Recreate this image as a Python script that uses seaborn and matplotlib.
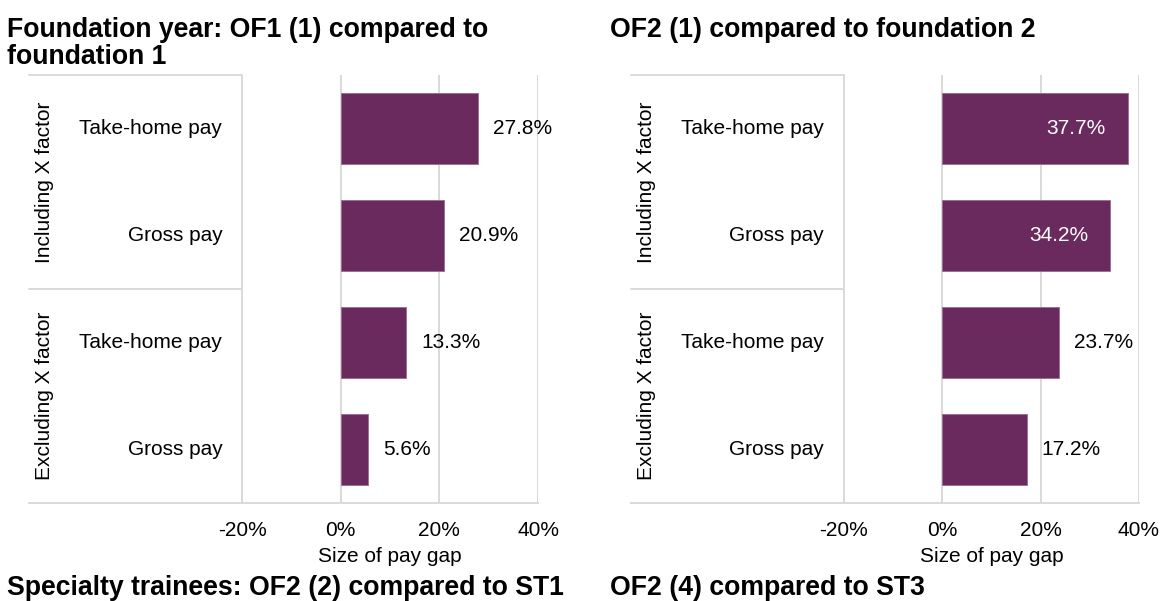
import matplotlib
matplotlib.use("Agg")
import matplotlib.pyplot as plt
import matplotlib.transforms as mtransforms
import pandas as pd
import seaborn as sns

# ---- data ----
groups = ["Including X factor", "Including X factor", "Excluding X factor", "Excluding X factor"]
measures = ["Take-home pay", "Gross pay", "Take-home pay", "Gross pay"]
foundation_gap = [27.8, 20.9, 13.3, 5.6]   # OF1 (1) vs foundation 1
of2_gap = [37.7, 34.2, 23.7, 17.2]          # OF2 (1) vs foundation 2
tick_values = [-20, 0, 20, 40]
tick_labels = ["-20%", "0%", "20%", "40%"]
titles_top = ["Foundation year: OF1 (1) compared to\nfoundation 1", "OF2 (1) compared to foundation 2"]
titles_bottom = ["Specialty trainees: OF2 (2) compared to ST1", "OF2 (4) compared to ST3"]
x_title = "Size of pay gap"

PURPLE = "#6B2A5E"
GRID = "#D9D9D9"
W, H = 1166, 601
FS = 15          # body text size
TFS = 19.2       # panel title size

sns.set_theme(style="white")
plt.rcParams["font.family"] = ["Liberation Sans", "DejaVu Sans"]
plt.rcParams["text.color"] = "black"

fig = plt.figure(figsize=(W / 100, H / 100), dpi=100)

rows = [f"{g} | {m}" for g, m in zip(groups, measures)]
XMIN, XMAX = -63.2, 40


def panel(left_px, right_px, values, inside_from):
    ax = fig.add_axes([left_px / W, (H - 503) / H, (right_px - left_px) / W, 428 / H])
    df = pd.DataFrame({"row": rows, "gap": values})
    for v in tick_values:
        ax.axvline(v, color=GRID, lw=1.4, zorder=0)
    sns.barplot(data=df, x="gap", y="row", order=rows, color=PURPLE, width=0.67,
                saturation=1, edgecolor="#9A6A90", linewidth=0.6, ax=ax, zorder=2)
    ax.set_xlim(XMIN, XMAX)
    ax.set_ylim(3.5, -0.5)
    for side in ["top", "right", "left"]:
        ax.spines[side].set_visible(False)
    ax.spines["bottom"].set_color(GRID)
    ax.spines["bottom"].set_linewidth(1.4)
    ax.set_yticks([])
    ax.set_ylabel("")
    ax.set_xlabel("")
    ax.set_xticks(tick_values)
    ax.set_xticklabels(tick_labels)
    ax.tick_params(axis="x", length=0, pad=13, labelsize=FS, colors="black")

    # category-axis frame lines
    for y in [-0.5, 1.5]:
        ax.plot([XMIN, -20], [y, y], color=GRID, lw=1.4, clip_on=False, zorder=1)

    # category labels
    for i, m in enumerate(measures):
        ax.text(-24, i, m, ha="right", va="center", fontsize=FS)
    ax.text(-60.1, 0.5, groups[0], rotation=90, ha="center", va="center", fontsize=FS)
    ax.text(-60.1, 2.5, groups[2], rotation=90, ha="center", va="center", fontsize=FS)

    # value labels
    for i, v in enumerate(values):
        if v >= inside_from:
            ax.text(v - 4.5, i, f"{v:.1f}%", ha="right", va="center", fontsize=FS, color="white")
        else:
            ax.text(v + 3, i, f"{v:.1f}%", ha="left", va="center", fontsize=FS, color="black")

    trans = mtransforms.blended_transform_factory(ax.transData, ax.transAxes)
    ax.text(10, -0.124, x_title, transform=trans, ha="center", va="center", fontsize=FS)
    return ax


panel(29, 538, foundation_gap, inside_from=30)
panel(631, 1139, of2_gap, inside_from=30)


def title(x_px, baseline_px, text):
    for k, line in enumerate(text.split("\n")):
        fig.text(x_px / W, 1 - (baseline_px + 26.5 * k) / H, line, ha="left", va="baseline",
                 fontsize=TFS, fontweight="bold")


title(7, 37, titles_top[0])
title(610, 37, titles_top[1])
title(7, 595, titles_bottom[0])
title(610, 595, titles_bottom[1])

fig.savefig("out.png", dpi=100)
